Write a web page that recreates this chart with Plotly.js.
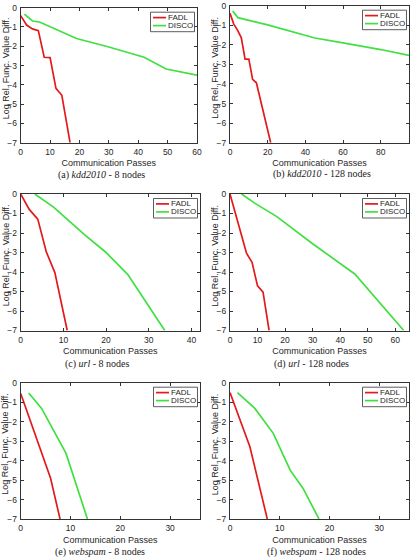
<!DOCTYPE html>
<html>
<head>
<meta charset="utf-8">
<script src="https://cdn.plot.ly/plotly-3.0.1.min.js"></script>
<style>
  html, body { margin: 0; padding: 0; background: #fff; }
  #chart { width: 414px; height: 558px; }
</style>
</head>
<body>
<div id="chart"></div>
<script>
// Convergence of FADL vs DISCO: log relative function value difference
// against the number of communication passes, six experiments.

const seriesNames = ['FADL', 'DISCO'];

// (a) kdd2010 - 8 nodes
const fadlX_a  = [0, 2, 4, 6, 8, 10, 12, 14, 16.8];
const fadlY_a  = [-0.41, -0.9, -1.1, -1.19, -2.57, -2.59, -4.18, -4.54, -7];
const discoX_a = [1.25, 4, 6.4, 19, 30, 42, 49.5, 60];
const discoY_a = [-0.33, -0.69, -0.74, -1.6, -2.04, -2.57, -3.18, -3.5];

// (b) kdd2010 - 128 nodes
const fadlX_b  = [0, 2, 4, 6, 8, 10, 12, 14, 21.6];
const fadlY_b  = [-0.39, -0.94, -1.25, -1.64, -2.73, -2.73, -3.76, -3.94, -7];
const discoX_b = [1.4, 4.2, 20, 45, 60, 80, 95];
const discoY_b = [-0.27, -0.61, -0.98, -1.65, -1.9, -2.24, -2.54];

// (c) url - 8 nodes
const fadlX_c  = [0, 2, 4, 6, 8, 10.9];
const fadlY_c  = [0, -0.79, -1.29, -2.97, -4.03, -7];
const discoX_c = [3.3, 7.7, 15, 20, 25.1, 33.75];
const discoY_c = [0, -0.67, -2.1, -3.0, -4.13, -7];

// (d) url - 128 nodes
const fadlX_d  = [0, 2, 4, 6, 8, 10, 12, 14.2];
const fadlY_d  = [0, -1.0, -2.0, -3.04, -3.5, -4.71, -5.03, -7];
const discoX_d = [4.2, 9.1, 17, 30, 45.3, 63.1];
const discoY_d = [0, -0.48, -1.16, -2.55, -4.1, -7];

// (e) webspam - 8 nodes
const fadlX_e  = [0, 2, 4, 6, 7.9];
const fadlY_e  = [-0.55, -2.0, -3.45, -4.91, -7];
const discoX_e = [1.6, 4.2, 9.1, 13.4];
const discoY_e = [-0.53, -1.32, -3.63, -7];

// (f) webspam - 128 nodes
const fadlX_f  = [0, 2, 4, 7.5];
const fadlY_f  = [-0.51, -1.95, -3.29, -7];
const discoX_f = [1.5, 5, 8.7, 12.1, 14.7, 17.9];
const discoY_f = [-0.51, -1.32, -2.6, -4.49, -5.43, -7];

// Axis extents and tick steps
const xMax   = [60, 95, 42, 65, 36, 36];
const xStep  = [10, 20, 10, 10, 10, 10];
const yRange = [-7, 0];

const captions = [
  '(a) <i>kdd2010</i> - 8 nodes',
  '(b) <i>kdd2010</i> - 128 nodes',
  '(c) <i>url</i> - 8 nodes',
  '(d) <i>url</i> - 128 nodes',
  '(e) <i>webspam</i> - 8 nodes',
  '(f) <i>webspam</i> - 128 nodes'
];

const xTitle = 'Communication Passes';
const yTitle = 'Log Rel. Func. Value Diff.';

const fadl  = [[fadlX_a, fadlY_a], [fadlX_b, fadlY_b], [fadlX_c, fadlY_c],
               [fadlX_d, fadlY_d], [fadlX_e, fadlY_e], [fadlX_f, fadlY_f]];
const disco = [[discoX_a, discoY_a], [discoX_b, discoY_b], [discoX_c, discoY_c],
               [discoX_d, discoY_d], [discoX_e, discoY_e], [discoX_f, discoY_f]];

// ---- page geometry (pixels) ----
const W = 414, H = 558;
const px = v => v / W;
const py = v => 1 - v / H;

// plot frames: [left, right, top, bottom]
const frames = [
  [20.7, 197, 7.7, 142.7],
  [230, 409, 5.7, 142.7],
  [20.7, 200, 194, 330.5],
  [230, 409, 194, 330.5],
  [20.7, 200, 382.7, 519],
  [230, 409, 382.7, 519]
];
const captionPos = [[101, 174.5], [322, 174], [97, 363.5], [311, 363.5], [99.5, 552], [316.7, 552]];
const yTitleX = [5.5, 215, 5.5, 215, 5.5, 215];

const RED = '#e31a1c';
const GREEN = '#3fe03f';
const AXIS = '#333333';
const SANS = 'Liberation Sans, Arial, sans-serif';
const SERIF = 'Liberation Serif, Times New Roman, serif';

const traces = [];
const layout = {
  width: W, height: H,
  margin: { l: 0, r: 0, t: 0, b: 0 },
  paper_bgcolor: '#fff',
  plot_bgcolor: '#fff',
  showlegend: false,
  font: { family: SANS, size: 8, color: '#262626' },
  shapes: [],
  annotations: []
};

frames.forEach((f, i) => {
  const n = i === 0 ? '' : String(i + 1);
  const xa = 'x' + n, ya = 'y' + n;

  traces.push({
    x: fadl[i][0], y: fadl[i][1], xaxis: xa, yaxis: ya,
    type: 'scatter', mode: 'lines', name: seriesNames[0],
    line: { color: RED, width: 1.7 }
  });
  traces.push({
    x: disco[i][0], y: disco[i][1], xaxis: xa, yaxis: ya,
    type: 'scatter', mode: 'lines', name: seriesNames[1],
    line: { color: GREEN, width: 1.7 }
  });

  const common = {
    showline: true, mirror: 'ticks', linecolor: AXIS, linewidth: 1,
    ticks: 'inside', ticklen: 3, tickwidth: 1, tickcolor: AXIS,
    showgrid: false, zeroline: false, fixedrange: true,
    tickfont: { family: SANS, size: 8.5, color: '#262626' }
  };

  layout['xaxis' + n] = Object.assign({}, common, {
    domain: [px(f[0]), px(f[1])],
    anchor: ya,
    range: [0, xMax[i]],
    dtick: xStep[i], tick0: 0,
    ticklabelstandoff: 1,
    title: { text: xTitle, font: { family: SANS, size: 9, color: '#262626' }, standoff: 3.5 }
  });
  layout['yaxis' + n] = Object.assign({}, common, {
    domain: [py(f[3]), py(f[2])],
    anchor: xa,
    range: yRange,
    dtick: 1, tick0: 0,
    ticklabelstandoff: 1
  });

  // y-axis title
  layout.annotations.push({
    xref: 'paper', yref: 'paper',
    x: px(yTitleX[i]), y: py((f[2] + f[3]) / 2 - 6.5),
    text: yTitle, textangle: -90, showarrow: false,
    xanchor: 'center', yanchor: 'middle',
    font: { family: SANS, size: 9, color: '#262626' }
  });

  // caption under each panel
  layout.annotations.push({
    xref: 'paper', yref: 'paper',
    x: px(captionPos[i][0]), y: py(captionPos[i][1]),
    text: captions[i], showarrow: false,
    xanchor: 'center', yanchor: 'middle', borderpad: 0,
    font: { family: SERIF, size: 10, color: '#222' }
  });

  // legend box in the upper-right corner of each panel
  const bx1 = f[1] - 2.5, bx0 = bx1 - 44, by0 = f[2] + 4.5, by1 = by0 + 19.5;
  layout.shapes.push({
    type: 'rect', xref: 'paper', yref: 'paper',
    x0: px(bx0), x1: px(bx1), y0: py(by0), y1: py(by1),
    line: { color: AXIS, width: 0.8 }, fillcolor: '#fff', layer: 'above'
  });
  [RED, GREEN].forEach((c, k) => {
    const ly = by0 + 5.4 + k * 8;
    layout.shapes.push({
      type: 'line', xref: 'paper', yref: 'paper',
      x0: px(bx0 + 2.5), x1: px(bx0 + 15.5), y0: py(ly), y1: py(ly),
      line: { color: c, width: 1.7 }, layer: 'above'
    });
    layout.annotations.push({
      xref: 'paper', yref: 'paper',
      x: px(bx0 + 16), y: py(ly),
      text: seriesNames[k], showarrow: false,
      xanchor: 'left', yanchor: 'middle', borderpad: 0,
      font: { family: SANS, size: 8, color: '#262626' }
    });
  });
});

Plotly.newPlot('chart', traces, layout, { staticPlot: true, displayModeBar: false });
</script>
</body>
</html>
